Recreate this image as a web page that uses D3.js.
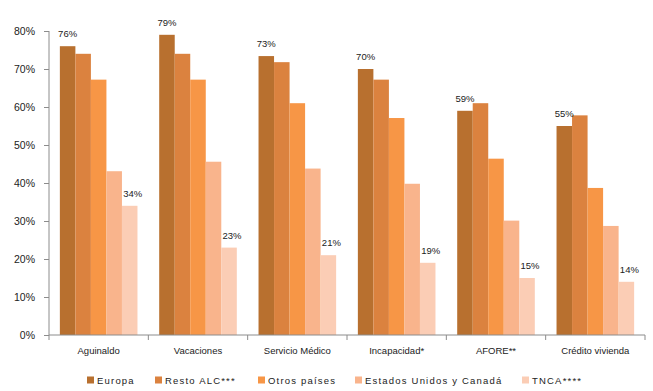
<!DOCTYPE html>
<html>
<head>
<meta charset="utf-8">
<script src="https://cdn.jsdelivr.net/npm/d3@7"></script>
<style>
  html, body { margin: 0; padding: 0; background: #fff; }
  svg text { font-family: "Liberation Sans", Arial, sans-serif; fill: #222; }
</style>
</head>
<body>
<svg id="chart" width="653" height="391"></svg>
<script>
// Prestaciones laborales por región de origen (share of workers)
const categories = ["Aguinaldo", "Vacaciones", "Servicio Médico", "Incapacidad*", "AFORE**", "Crédito vivienda"];
const seriesNames = ["Europa", "Resto ALC***", "Otros países", "Estados Unidos y Canadá", "TNCA****"];
const europa   = [0.76, 0.79, 0.734, 0.70, 0.59, 0.55];
const restoALC = [0.74, 0.74, 0.718, 0.672, 0.61, 0.578];
const otros    = [0.672, 0.672, 0.61, 0.571, 0.464, 0.387];
const eeuuCan  = [0.431, 0.456, 0.438, 0.398, 0.301, 0.287];
const tnca     = [0.34, 0.23, 0.21, 0.19, 0.15, 0.14];
const yTicks   = [0, 0.1, 0.2, 0.3, 0.4, 0.5, 0.6, 0.7, 0.8];
const labelledSeries = ["Europa", "TNCA****"];

const seriesValues = [europa, restoALC, otros, eeuuCan, tnca];
const colors = ["#B8702F", "#DB823F", "#F79646", "#F9B48C", "#FBCDB5"];

const svg = d3.select("#chart");
const plotL = 49, plotR = 645, plotT = 31, plotB = 335;

const x0 = d3.scaleBand().domain(categories).range([plotL, plotR]).padding(0);
const x1 = d3.scaleBand().domain(seriesNames).range([0, x0.bandwidth()]).paddingInner(0).paddingOuter(0.7);
const y = d3.scaleLinear().domain([0, 0.8]).range([plotB, plotT]);
const color = d3.scaleOrdinal().domain(seriesNames).range(colors);
const pct = d3.format(".0%");

const rows = categories.map((c, i) => ({
  cat: c,
  vals: seriesNames.map((s, j) => ({ series: s, value: seriesValues[j][i] }))
}));

// bars
const groups = svg.append("g").selectAll("g").data(rows).join("g")
  .attr("transform", d => `translate(${x0(d.cat)},0)`);

groups.selectAll("rect").data(d => d.vals).join("rect")
  .attr("x", d => x1(d.series))
  .attr("width", x1.bandwidth())
  .attr("y", d => y(d.value))
  .attr("height", d => y(0) - y(d.value))
  .attr("fill", d => color(d.series));

// value labels on selected series
groups.selectAll("text.val").data(d => d.vals.filter(v => labelledSeries.includes(v.series))).join("text")
  .attr("class", "val")
  .attr("x", d => x1(d.series) + x1.bandwidth() / 2 + (d.series === "TNCA****" ? 3 : 0))
  .attr("y", d => y(d.value) - 9)
  .attr("text-anchor", "middle")
  .style("font-size", "9.5px")
  .text(d => pct(d.value));

// y axis
const yAxis = d3.axisLeft(y).tickValues(yTicks).tickFormat(pct).tickSize(5).tickPadding(9);
const gy = svg.append("g").attr("transform", `translate(${plotL},0)`).call(yAxis);
gy.selectAll("path, line").attr("stroke", "#8c8c8c");
gy.select(".domain").attr("d", `M0,${plotB}V${plotT}`);
gy.selectAll("text").style("font-size", "10.5px").attr("fill", "#222");

// x axis with ticks at category boundaries
const gx = svg.append("g").attr("transform", `translate(0,${plotB})`);
gx.append("line").attr("x1", plotL).attr("x2", plotR).attr("stroke", "#8c8c8c");
const bounds = categories.map(c => x0(c)).concat([plotR]);
gx.selectAll("line.tk").data(bounds).join("line")
  .attr("class", "tk")
  .attr("x1", d => d).attr("x2", d => d)
  .attr("y1", 0).attr("y2", 5)
  .attr("stroke", "#8c8c8c");
gx.selectAll("text").data(categories).join("text")
  .attr("x", d => x0(d) + x0.bandwidth() / 2)
  .attr("y", 19)
  .attr("text-anchor", "middle")
  .style("font-size", "9.5px")
  .text(d => d);

// legend
const legendX = [87, 155, 258, 355, 522];
const lg = svg.append("g").selectAll("g").data(seriesNames).join("g")
  .attr("transform", (d, i) => `translate(${legendX[i]},380)`);
lg.append("rect").attr("x", 0).attr("y", -3.5).attr("width", 7).attr("height", 7).attr("fill", d => color(d));
lg.append("text").attr("x", 10).attr("y", 3.5).style("font-size", "9.5px").style("letter-spacing", "1.2px").text(d => d);
</script>
</body>
</html>
